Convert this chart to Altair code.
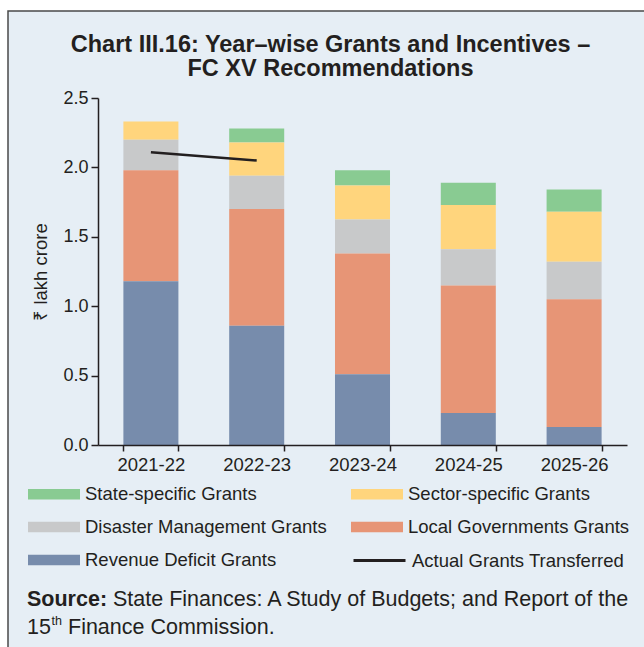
import altair as alt
import pandas as pd

# ---------------- data ----------------
years = ["2021-22", "2022-23", "2023-24", "2024-25", "2025-26"]
revenue_deficit = [1.18, 0.86, 0.51, 0.23, 0.13]
local_govt = [0.80, 0.84, 0.87, 0.92, 0.92]
disaster_mgmt = [0.22, 0.24, 0.245, 0.26, 0.27]
sector_specific = [0.13, 0.24, 0.245, 0.32, 0.36]
state_specific = [0.00, 0.10, 0.11, 0.16, 0.16]

actual_years = ["2021-22", "2022-23"]
actual_transferred = [2.11, 2.05]

series_names = [
    "State-specific Grants",
    "Sector-specific Grants",
    "Disaster Management Grants",
    "Local Governments Grants",
    "Revenue Deficit Grants",
]
series_colors = ["#89CB92", "#FFD57D", "#C8C9CA", "#E79576", "#778CAC"]
series_values = [state_specific, sector_specific, disaster_mgmt, local_govt, revenue_deficit]
stack_rank = [4, 3, 2, 1, 0]  # bottom of stack = 0

line_label = "Actual Grants Transferred"
y_ticks = [0.0, 0.5, 1.0, 1.5, 2.0, 2.5]

title_lines = ["Chart III.16: Year\u2013wise Grants and Incentives \u2013", "FC XV Recommendations"]

# ---------------- tables ----------------
rows = []
for name, vals, rk in zip(series_names, series_values, stack_rank):
    for yr, v in zip(years, vals):
        rows.append({"year": yr, "series": name, "value": v, "rank": rk})
bars_df = pd.DataFrame(rows)
line_df = pd.DataFrame({"year": actual_years, "value": actual_transferred, "label": line_label})
one = pd.DataFrame({"k": [0]})

FONT = "Liberation Sans"
INK = "#231F20"
W, H = 529, 347

x_enc = alt.X(
    "year:N",
    sort=years,
    scale=alt.Scale(domain=years, paddingInner=0.48, paddingOuter=0.24),
    axis=alt.Axis(
        title=None, labelAngle=0, tickBand="extent", labelFontSize=18.5,
        labelColor=INK, labelFont=FONT, domainColor=INK, domainWidth=1.5,
        tickColor=INK, tickWidth=1.5, tickSize=6, labelPadding=4, zindex=1,
    ),
)
y_enc = alt.Y(
    "value:Q",
    stack="zero",
    scale=alt.Scale(domain=[0, 2.5], nice=False),
    axis=alt.Axis(
        title="\u20b9 lakh crore", values=y_ticks, format=".1f", grid=False,
        labelFontSize=18, labelColor=INK, labelFont=FONT, labelPadding=3,
        domainColor=INK, domainWidth=1.5, tickColor=INK, tickWidth=1.5, tickSize=7,
        titleFontSize=18.5, titleFontWeight="normal", titleColor=INK, titleFont=FONT,
        titlePadding=12, zindex=1,
    ),
)

panel = alt.Chart(one).mark_rect(
    fill="#E6EEF5", stroke="#4A4A4A", strokeWidth=1.5
).encode(
    x=alt.value(-90), x2=alt.value(580), y=alt.value(-87), y2=alt.value(580)
)

bars = alt.Chart(bars_df).mark_bar().encode(
    x=x_enc,
    y=y_enc,
    fill=alt.Fill(
        "series:N",
        scale=alt.Scale(domain=series_names, range=series_colors),
        legend=alt.Legend(
            title=None, orient="none", legendX=-70, legendY=383, columns=2,
            direction="horizontal",
            columnPadding=24, rowPadding=10, symbolType="M-1,-0.4H3V0.4H-1Z",
            symbolSize=676, symbolStrokeWidth=0, labelFontSize=18.5,
            labelOffset=31, labelLimit=500, labelColor=INK, labelFont=FONT, padding=0,
        ),
    ),
    order=alt.Order("rank:Q"),
)

line = alt.Chart(line_df).mark_line(strokeWidth=2.5).encode(
    x=alt.X("year:N", sort=years),
    y=alt.Y("value:Q"),
    stroke=alt.Stroke(
        "label:N",
        scale=alt.Scale(domain=[line_label], range=[INK]),
        legend=alt.Legend(
            title=None, orient="none", legendX=254, legendY=435,
            symbolType="stroke", symbolSize=2704, symbolStrokeWidth=3,
            labelFontSize=18.5, labelOffset=5, labelLimit=500, labelColor=INK,
            labelFont=FONT, padding=0,
        ),
    ),
)

def txt(s, x, y, size, weight="normal", align="left"):
    return alt.Chart(one).mark_text(
        text=s, align=align, baseline="alphabetic", fontSize=size,
        fontWeight=weight, font=FONT, color=INK,
    ).encode(x=alt.value(x), y=alt.value(y))

title1 = txt(title_lines[0], 232.5, -46.5, 23.5, "bold", "center")
title2 = txt(title_lines[1], 232.5, -22, 23.5, "bold", "center")
src_b = txt("Source:", -71, 508, 21.5, "bold")
src_r = txt("State Finances: A Study of Budgets; and Report of the", 15, 508, 21.5)
src_15 = txt("15", -71, 536, 21.5)
src_th = txt("th", -46.5, 527, 12.5)
src_rest = txt("Finance Commission.", -30, 536, 21.5)

chart = alt.layer(
    panel, bars, line, title1, title2, src_b, src_r, src_15, src_th, src_rest
).properties(
    width=W, height=H,
    padding={"left": 98, "top": 98, "right": 17, "bottom": 202},
    autosize="none",
    background="white",
).configure_view(stroke=None)

chart.save("out.html", embed_options={"renderer": "svg", "actions": False})
